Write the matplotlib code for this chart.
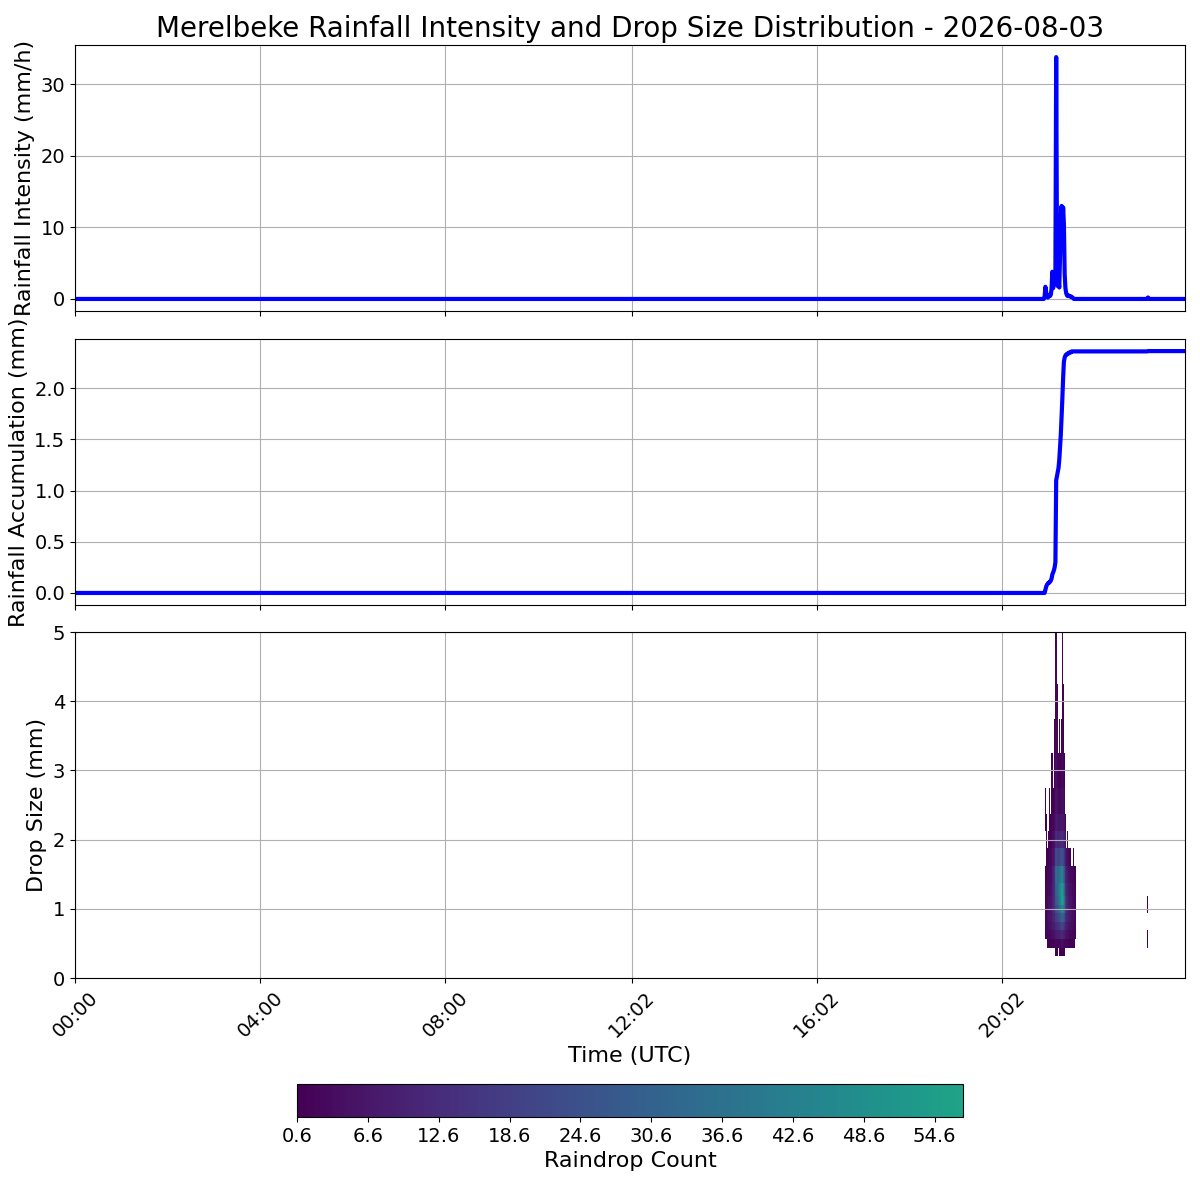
import numpy as np
import pandas as pd
import matplotlib
matplotlib.use("Agg")
import matplotlib.pyplot as plt
import matplotlib.dates as mdates
from matplotlib.colors import ListedColormap, Normalize

DAY = "2026-08-03"

# rainfall intensity (mm/h), zero outside the listed minutes
rain_times = ["00:00", "20:56", "20:57", "20:58", "20:59", "21:00", "21:01", "21:02",
              "21:03", "21:04", "21:05", "21:06", "21:07", "21:08", "21:09", "21:10",
              "21:11", "21:12", "21:13", "21:14", "21:15", "21:16", "21:17", "21:18",
              "21:19", "21:20", "21:21", "21:22", "21:23", "21:24", "21:25", "21:26",
              "21:27", "21:28", "21:29", "21:30", "21:31", "21:32", "21:33", "21:34",
              "21:35", "23:10", "23:11", "23:12", "23:59"]
intensity = [0, 0, 0.3, 1.7, 1.0, 0.3, 0.2, 0.3,
             0.5, 0.4, 0.6, 1.4, 3.8, 1.5, 2.2, 3.7,
             4.0, 33.8, 8.0, 1.8, 2.5, 1.6, 6.0, 11.5,
             13.0, 9.5, 12.8, 10.5, 3.5, 1.5, 0.8, 0.5,
             0.4, 0.5, 0.4, 0.4, 0.3, 0.3, 0.2, 0.1,
             0, 0, 0.2, 0, 0]

# rainfall accumulation (mm)
accumulation = [0, 0, 0.0, 0.03, 0.06, 0.08, 0.09, 0.10,
                0.10, 0.11, 0.12, 0.14, 0.18, 0.20, 0.22, 0.25,
                0.30, 1.10, 1.14, 1.18, 1.22, 1.30, 1.42, 1.55,
                1.72, 1.90, 2.10, 2.26, 2.30, 2.32, 2.33, 2.33,
                2.34, 2.34, 2.35, 2.35, 2.35, 2.36, 2.36, 2.36,
                2.36, 2.36, 2.363, 2.363, 2.363]

# drop size bin edges (mm)
size_edges = [0.312, 0.437, 0.562, 0.687, 0.812, 0.937, 1.062, 1.187, 1.375,
              1.625, 1.875, 2.125, 2.375, 2.75, 3.25, 3.75, 4.25, 4.75, 5.5]

# drop counts per minute (rows) and size bin (columns)
dsd_start = "20:58"
dsd_counts = [
    [0, 0, 1, 2, 2, 2, 1, 1, 1, 0, 0, 1, 1, 0, 0, 0, 0, 0],
    [0, 0, 2, 3, 3, 2, 2, 2, 1, 1, 1, 1, 0, 0, 0, 0, 0, 0],
    [0, 1, 2, 3, 4, 3, 3, 2, 2, 1, 0, 0, 0, 0, 0, 0, 0, 0],
    [0, 1, 3, 4, 4, 4, 3, 3, 2, 2, 1, 1, 1, 0, 0, 0, 0, 0],
    [0, 1, 3, 4, 5, 4, 4, 3, 2, 1, 1, 0, 0, 0, 0, 0, 0, 0],
    [0, 1, 3, 5, 5, 5, 4, 3, 3, 2, 1, 1, 1, 0, 0, 0, 0, 0],
    [0, 1, 3, 5, 6, 6, 5, 4, 3, 2, 1, 1, 0, 0, 0, 0, 0, 0],
    [0, 1, 4, 6, 7, 7, 6, 5, 4, 3, 2, 1, 1, 1, 0, 0, 0, 0],
    [0, 1, 4, 6, 8, 8, 8, 7, 6, 4, 2, 1, 1, 0, 0, 0, 0, 0],
    [0, 2, 4, 7, 9, 10, 10, 9, 8, 5, 3, 2, 1, 1, 0, 0, 0, 0],
    [0, 1, 5, 8, 11, 12, 12, 11, 10, 6, 4, 2, 1, 0, 0, 0, 0, 0],
    [0, 2, 5, 8, 11, 13, 14, 14, 13, 8, 5, 3, 2, 1, 1, 0, 0, 0],
    [1, 2, 6, 10, 14, 17, 19, 21, 22, 14, 8, 5, 3, 2, 1, 1, 0, 0],
    [1, 3, 7, 12, 17, 22, 25, 28, 32, 20, 11, 7, 5, 4, 3, 2, 2, 1],
    [1, 3, 8, 13, 18, 24, 28, 32, 36, 22, 13, 8, 6, 4, 3, 2, 2, 2],
    [1, 3, 8, 13, 19, 25, 30, 33, 32, 20, 11, 7, 4, 3, 2, 1, 0, 0],
    [1, 3, 8, 13, 19, 26, 31, 34, 30, 18, 10, 6, 4, 2, 1, 0, 0, 0],
    [0, 2, 8, 14, 21, 29, 35, 38, 33, 19, 11, 6, 3, 1, 0, 0, 0, 0],
    [1, 3, 10, 16, 24, 33, 40, 42, 36, 21, 12, 6, 3, 2, 1, 0, 0, 0],
    [1, 3, 10, 18, 27, 38, 46, 47, 40, 23, 12, 6, 3, 1, 0, 0, 0, 0],
    [1, 4, 12, 20, 30, 42, 52, 52, 44, 25, 13, 7, 4, 2, 1, 0, 0, 0],
    [1, 4, 12, 21, 32, 46, 56, 55, 46, 26, 14, 8, 5, 3, 2, 2, 1, 1],
    [1, 4, 12, 21, 32, 46, 57, 54, 42, 24, 13, 7, 4, 3, 2, 1, 1, 1],
    [1, 3, 10, 18, 28, 40, 48, 44, 34, 20, 11, 6, 4, 2, 1, 1, 0, 0],
    [1, 3, 9, 15, 23, 32, 36, 32, 25, 15, 9, 5, 2, 1, 0, 0, 0, 0],
    [0, 2, 7, 12, 18, 24, 26, 22, 17, 11, 6, 3, 1, 0, 0, 0, 0, 0],
    [0, 2, 6, 10, 14, 18, 18, 15, 12, 8, 4, 2, 0, 0, 0, 0, 0, 0],
    [0, 2, 5, 8, 11, 13, 13, 11, 9, 5, 0, 0, 0, 0, 0, 0, 0, 0],
    [0, 2, 5, 7, 9, 10, 10, 9, 7, 4, 2, 0, 0, 0, 0, 0, 0, 0],
    [0, 1, 4, 6, 8, 9, 8, 7, 5, 3, 0, 0, 0, 0, 0, 0, 0, 0],
    [0, 1, 4, 6, 7, 8, 7, 6, 4, 2, 0, 0, 0, 0, 0, 0, 0, 0],
    [0, 1, 3, 5, 7, 7, 6, 5, 4, 2, 0, 0, 0, 0, 0, 0, 0, 0],
    [0, 1, 3, 5, 6, 6, 6, 5, 3, 1, 0, 0, 0, 0, 0, 0, 0, 0],
    [0, 1, 3, 4, 5, 5, 5, 4, 3, 0, 0, 0, 0, 0, 0, 0, 0, 0],
    [0, 1, 3, 4, 5, 5, 4, 4, 3, 2, 0, 0, 0, 0, 0, 0, 0, 0],
    [0, 1, 2, 4, 4, 4, 4, 3, 2, 0, 0, 0, 0, 0, 0, 0, 0, 0],
    [0, 1, 2, 3, 4, 4, 3, 3, 2, 1, 0, 0, 0, 0, 0, 0, 0, 0],
    [0, 1, 2, 3, 3, 3, 3, 2, 1, 0, 0, 0, 0, 0, 0, 0, 0, 0],
    [0, 1, 2, 2, 3, 3, 2, 2, 1, 1, 0, 0, 0, 0, 0, 0, 0, 0],
    [0, 0, 1, 2, 2, 2, 2, 1, 1, 0, 0, 0, 0, 0, 0, 0, 0, 0],
]
# lone column late in the evening
late_start = "23:10"
late_counts = [0, 1, 1, 0, 0, 1, 1, 0, 0, 0, 0, 0, 0, 0, 0, 0, 0, 0]

tick_times = ["00:00", "04:00", "08:00", "12:02", "16:02", "20:02"]
cbar_min, cbar_max = 0.6, 57.0


def to_dt(hhmm):
    return pd.to_datetime([f"{DAY} {t}" for t in hhmm])


t_rain = to_dt(rain_times)
t_dsd = pd.date_range(f"{DAY} {dsd_start}", periods=len(dsd_counts) + 1, freq="min")
t_late = pd.date_range(f"{DAY} {late_start}", periods=2, freq="min")

cmap = ListedColormap(plt.cm.viridis(np.linspace(0, 0.58, 256)))
norm = Normalize(vmin=cbar_min, vmax=cbar_max)

fig = plt.figure(figsize=(12, 12), dpi=100)
ax1 = fig.add_axes([0.0625, 0.7408, 0.925, 0.2217])
ax2 = fig.add_axes([0.0625, 0.4958, 0.925, 0.2217], sharex=ax1)
ax3 = fig.add_axes([0.0625, 0.185, 0.925, 0.2883], sharex=ax1)
cax = fig.add_axes([0.2475, 0.0692, 0.555, 0.0275])

ax1.plot(t_rain, intensity, color="blue", lw=3)
ax1.set_ylabel("Rainfall Intensity (mm/h)", fontsize=16)
ax1.set_title(f"Merelbeke Rainfall Intensity and Drop Size Distribution - {DAY}", fontsize=20)

ax2.plot(t_rain, accumulation, color="blue", lw=3)
ax2.set_ylabel("Rainfall Accumulation (mm)", fontsize=16)

C = np.ma.masked_equal(np.array(dsd_counts, dtype=float).T, 0)
mesh = ax3.pcolormesh(t_dsd, size_edges, C, cmap=cmap, norm=norm, shading="flat")
C2 = np.ma.masked_equal(np.array([late_counts], dtype=float).T, 0)
ax3.pcolormesh(t_late, size_edges, C2, cmap=cmap, norm=norm, shading="flat")
ax3.set_ylim(0, 5)
ax3.set_ylabel("Drop Size (mm)", fontsize=16)
ax3.set_xlabel("Time (UTC)", fontsize=16)

for ax in (ax1, ax2, ax3):
    ax.grid(True)
    ax.tick_params(labelsize=14)
ax1.set_xlim(t_rain[0], t_rain[-1])
ax3.set_xticks(to_dt(tick_times))
ax3.xaxis.set_major_formatter(mdates.DateFormatter("%H:%M"))
plt.setp(ax1.get_xticklabels(), visible=False)
plt.setp(ax2.get_xticklabels(), visible=False)
plt.setp(ax3.get_xticklabels(), rotation=45)

cb = fig.colorbar(mesh, cax=cax, orientation="horizontal")
cb.set_ticks(np.arange(cbar_min, cbar_max, 6))
cb.ax.tick_params(labelsize=14)
cb.set_label("Raindrop Count", fontsize=16)

fig.savefig("out.png", dpi=100)
